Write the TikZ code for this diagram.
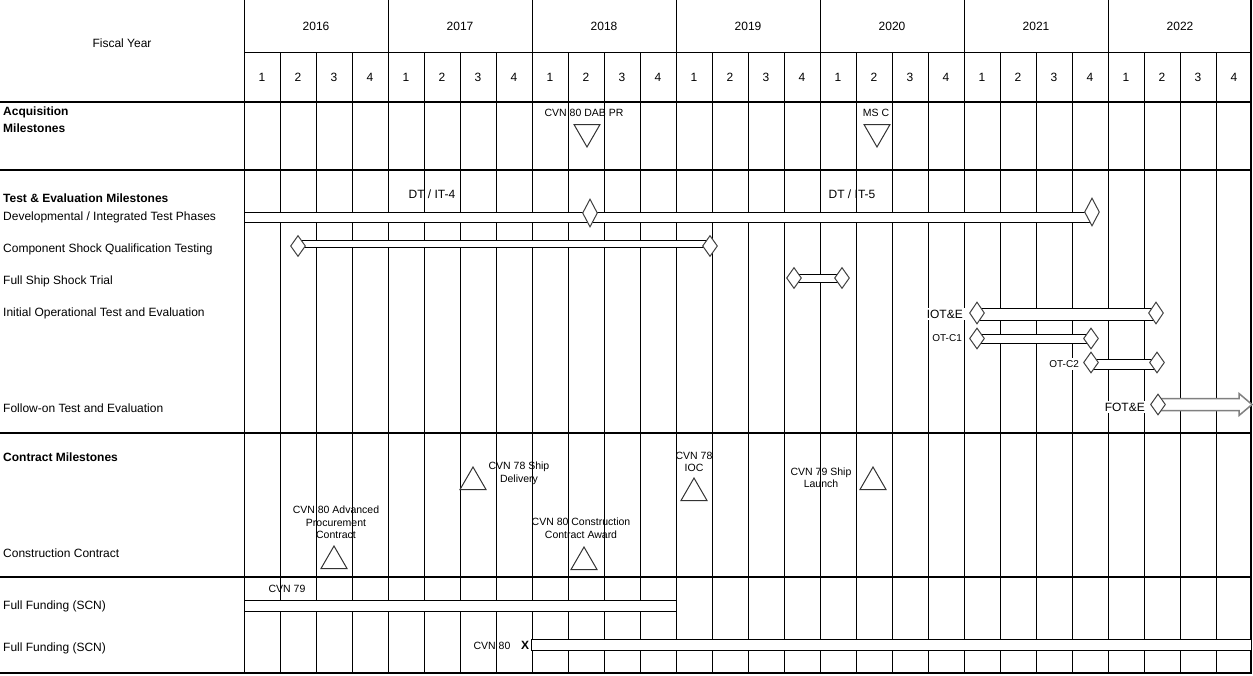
\documentclass[tikz,border=0pt]{standalone}
\usepackage{fontspec}
\setmainfont{Liberation Sans}
\usetikzlibrary{shapes.geometric,calc}
\pgfdeclarelayer{grid}
\pgfdeclarelayer{bars}
\pgfsetlayers{grid,bars,main}
\begin{document}
\begin{tikzpicture}[x=1pt,y=-1pt,
  lbl/.style={font=\fontsize{12}{14}\selectfont, inner sep=0pt, text height=8.6pt, text depth=0pt},
  lft/.style={lbl, anchor=west},
  bld/.style={lbl, anchor=west, font=\fontsize{12}{14}\selectfont\bfseries},
  sml/.style={font=\fontsize{10.5}{12.5}\selectfont, inner sep=0pt, align=center},
  tiny/.style={font=\fontsize{10}{12}\selectfont, inner sep=0pt, text height=7.2pt, text depth=0pt},
  wbg/.style={fill=white, inner xsep=2pt, inner ysep=2pt},
  gl/.style={line width=1pt, draw=black},
  sec/.style={line width=2pt, draw=black},
  bar/.style={draw=black, fill=white, line width=1pt},
  dia/.style={diamond, draw=black!75, fill=white, line width=1pt, minimum width=15pt, minimum height=21pt, inner sep=0pt},
  tri/.style={regular polygon, regular polygon sides=3, draw=black!80, line width=1pt, minimum size=30pt, inner sep=0pt},
  itri/.style={tri, shape border rotate=180},
]
\useasboundingbox (0,0) rectangle (1253,675);

% ---------- grid ----------
\begin{pgfonlayer}{grid}
  \foreach \i in {0,...,27} \draw[gl] (244+36*\i,52) -- (244+36*\i,673);
  \foreach \k in {0,...,6} \draw[gl] (244+144*\k,0) -- (244+144*\k,52);
  \draw[gl] (244,52) -- (1251,52);
  \draw[sec] (0,102) -- (1252,102);
  \draw[sec] (0,170) -- (1252,170);
  \draw[sec] (0,433) -- (1252,433);
  \draw[line width=1.3pt] (0,577) -- (1252,577);
  \draw[sec] (0,673) -- (1252,673);
  \draw[sec] (1251,0) -- (1251,674);
\end{pgfonlayer}

% ---------- header ----------
\node[lbl] (fy) at (122,43) {Fiscal Year};
\foreach \y [count=\k from 0] in {2016,2017,2018,2019,2020,2021,2022}
  \node[lbl] (yr\y) at (316+144*\k,26) {\y};
\foreach \k in {0,...,6}
  \foreach \q in {1,...,4}
    \node[lbl] (q\k-\q) at (244+144*\k+36*\q-18,77) {\q};

% ---------- left labels ----------
\node[bld] (acq1) at (3,111) {Acquisition};
\node[bld] (acq2) at (3,128) {Milestones};
\node[bld] (tem) at (3,198) {Test \& Evaluation Milestones};
\node[lft] (l1) at (3,216.5) {Developmental / Integrated Test Phases};
\node[lft] (l2) at (3,248.5) {Component Shock Qualification Testing};
\node[lft] (l3) at (3,280.5) {Full Ship Shock Trial};
\node[lft] (l4) at (3,312.5) {Initial Operational Test and Evaluation};
\node[lft] (l5) at (3,408.5) {Follow-on Test and Evaluation};
\node[bld] (cm) at (3,457) {Contract Milestones};
\node[lft] (l6) at (3,553) {Construction Contract};
\node[lft] (l7) at (3,605.5) {Full Funding (SCN)};
\node[lft] (l8) at (3,647.5) {Full Funding (SCN)};

% ---------- acquisition milestones ----------
\node[sml] (dabt) at (584,113) {CVN 80 DAB PR};
\node[itri] (dab) at (587,132) {};
\node[sml] (msct) at (876,113) {MS C};
\node[itri] (msc) at (877,132) {};

% ---------- T&E ----------
\node[lbl] (dt4) at (432,194) {DT / IT-4};
\node[lbl] (dt5) at (852,194) {DT / IT-5};
\coordinate (dtL) at (244,212);
\node[dia, minimum height=28pt] (dt1) at (590,213) {};
\node[dia, minimum height=28pt] (dt2) at (1092,212) {};
\node[dia] (cs1) at (298,246) {};
\node[dia] (cs2) at (710,246) {};
\node[dia] (fs1) at (794,278) {};
\node[dia] (fs2) at (842,278) {};
\node[dia, minimum height=22pt] (io1) at (977,313) {};
\node[dia, minimum height=22pt] (io2) at (1156,313) {};
\node[dia] (oc1) at (977,338.5) {};
\node[dia] (oc2) at (1091,338.5) {};
\node[dia] (od1) at (1091,362.5) {};
\node[dia] (od2) at (1157,362.5) {};
\node[dia] (fo) at (1158,404.5) {};
\coordinate (foTip) at (1252,404.5);

\node[lbl, wbg, anchor=east] (iot) at (965,314) {IOT\&E};
\node[tiny, wbg, anchor=east] (otc1) at (964,337.5) {OT-C1};
\node[tiny, wbg, anchor=east] (otc2) at (1081,364) {OT-C2};
\node[lbl, wbg, anchor=east] (fot) at (1147,407) {FOT\&E};

\begin{pgfonlayer}{bars}
  \draw[bar] (dtL) rectangle ($(dt2.center)+(0,10)$);
  \draw[bar] ($(cs1.center)+(0,-6)$) rectangle ($(cs2.center)+(0,1)$);
  \draw[bar] ($(fs1.center)+(0,-4)$) rectangle ($(fs2.center)+(0,4)$);
  \draw[bar] ($(io1.center)+(0,-5)$) rectangle ($(io2.center)+(0,7)$);
  \draw[bar] ($(oc1.center)+(0,-4.5)$) rectangle ($(oc2.center)+(0,4.5)$);
  \draw[bar] ($(od1.center)+(0,-3.5)$) rectangle ($(od2.center)+(0,6.5)$);
  \draw[fill=white, draw=black!50, line width=1.5pt, line join=miter]
    ($(fo.center)+(0,-6)$) -- ($(foTip)+(-13,-6)$) -- ($(foTip)+(-13,-11)$) -- (foTip)
    -- ($(foTip)+(-13,11)$) -- ($(foTip)+(-13,6)$) -- ($(fo.center)+(0,6)$) -- cycle;
\end{pgfonlayer}

% ---------- contract milestones ----------
\node[sml] (apt) at (336,522.5) {CVN 80 Advanced\\Procurement\\Contract};
\node[tri] (ap) at (334,561) {};
\node[sml] (sdt) at (519,473.5) {CVN 78 Ship\\Delivery};
\node[tri] (sd) at (473,482) {};
\node[sml] (cat) at (581,528) {CVN 80 Construction\\Contract Award};
\node[tri] (ca) at (584,562) {};
\node[sml] (ioct) at (694,462) {CVN 78\\IOC};
\node[tri] (ioc) at (694,493) {};
\node[sml] (slt) at (821,477.5) {CVN 79 Ship\\Launch};
\node[tri] (sl) at (873,482) {};

% ---------- funding ----------
\node[sml] (c79) at (287,589) {CVN 79};
\coordinate (f79L) at (244,600);
\coordinate (f79R) at (676,611);
\node[sml] (c80) at (492,646) {CVN 80};
\node[font=\fontsize{12}{14}\selectfont\bfseries, inner sep=0pt] (x80) at (525,645) {X};
\coordinate (f80L) at (531,639);
\coordinate (f80R) at (1251,650);
\begin{pgfonlayer}{bars}
  \draw[bar] (f79L) rectangle (f79R);
  \draw[bar] (f80L) rectangle (f80R);
\end{pgfonlayer}
\end{tikzpicture}
\end{document}
